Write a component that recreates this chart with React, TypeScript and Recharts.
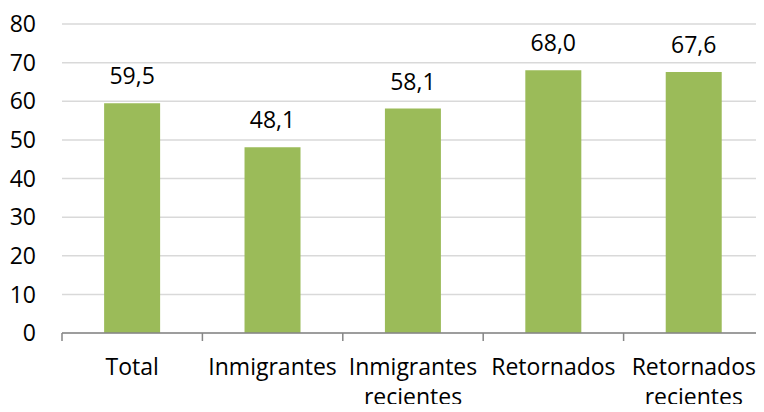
import React from "react"
import { Bar, BarChart, CartesianGrid, LabelList, XAxis, YAxis } from "recharts"

const categories = ["Total", "Inmigrantes", "Inmigrantes\nrecientes", "Retornados", "Retornados\nrecientes"]
const values = [59.5, 48.1, 58.1, 68.0, 67.6]
const yTicks = [0, 10, 20, 30, 40, 50, 60, 70, 80]

const data = categories.map((name, i) => ({ name, value: values[i] }))

const FONT = "'Open Sans', sans-serif"
const W = 764
const H = 412
const LEFT = 62
const BAND = (W - LEFT) / categories.length

function CategoryTick(props: any) {
  const { x, y, payload, index } = props
  const lines = String(payload.value).split("\n")
  return (
    <g>
      <line x1={x - BAND / 2} x2={x - BAND / 2} y1={y} y2={y + 8} stroke="#868686" strokeWidth={1.5} />
      {index === categories.length - 1 && (
        <line x1={x + BAND / 2} x2={x + BAND / 2} y1={y} y2={y + 8} stroke="#868686" strokeWidth={1.5} />
      )}
      <text x={x} y={y + 42} textAnchor="middle" fontFamily={FONT} fontSize={23} fill="#000">
        {lines.map((l, i) => (
          <tspan key={i} x={x} dy={i === 0 ? 0 : 30}>
            {l}
          </tspan>
        ))}
      </text>
    </g>
  )
}

export default function App() {
  return (
    <div style={{ margin: -8, width: W, height: H, background: "#fff" }}>
      <BarChart
        width={W}
        height={H}
        data={data}
        margin={{ top: 24, right: 0, bottom: 0, left: 0 }}
        barCategoryGap="30%"
      >
        <CartesianGrid vertical={false} stroke="#D9D9D9" strokeWidth={1.5} />
        <XAxis
          dataKey="name"
          interval={0}
          height={79}
          tickSize={0}
          tickMargin={0}
          tickLine={false}
          axisLine={{ stroke: "#868686", strokeWidth: 1.5 }}
          tick={<CategoryTick />}
        />
        <YAxis
          width={LEFT}
          domain={[0, 80]}
          ticks={yTicks}
          interval={0}
          axisLine={false}
          tickLine={false}
          tickSize={0}
          tickMargin={26}
          tick={{ fontFamily: FONT, fontSize: 23, fill: "#000" }}
        />
        <Bar dataKey="value" fill="#9BBB59" isAnimationActive={false}>
          <LabelList
            dataKey="value"
            position="top"
            offset={19}
            fontFamily={FONT}
            fontSize={23}
            fill="#000"
            formatter={(v: any) => Number(v).toFixed(1).replace(".", ",")}
          />
        </Bar>
      </BarChart>
    </div>
  )
}
